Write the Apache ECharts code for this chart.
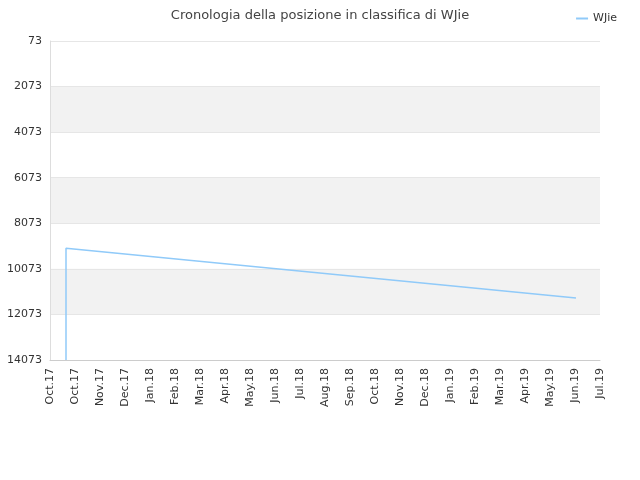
<!DOCTYPE html>
<html>
<head>
<meta charset="utf-8">
<script src="https://cdn.jsdelivr.net/npm/echarts@6/dist/echarts.min.js"></script>
</head>
<body style="margin:0">
<div id="main" style="width:640px;height:480px"></div>
<script>
var monthLabels = ['Oct.17','Oct.17','Nov.17','Dec.17','Jan.18','Feb.18','Mar.18','Apr.18','May.18','Jun.18','Jul.18','Aug.18','Sep.18','Oct.18','Nov.18','Dec.18','Jan.19','Feb.19','Mar.19','Apr.19','May.19','Jun.19','Jul.19'];
// x = position in label slots, y = rank
var rankPoints = [[0.64, 14073], [0.64, 9170], [21.04, 11350]];

var myChart = echarts.init(document.getElementById('main'));
var option = {
    title: {
        text: 'Cronologia della posizione in classifica di WJie',
        left: 'center', top: 4,
        textStyle: {fontSize: 13, fontWeight: 'normal', color: '#444', fontFamily: 'DejaVu Sans'}
    },
    legend: {
        right: 18, top: 8, itemWidth: 12, itemHeight: 2,
        textStyle: {fontSize: 11, color: '#333', fontFamily: 'DejaVu Sans'},
        data: [{name: 'WJie', icon: 'rect'}]
    },
    grid: {left: 50, right: 40, top: 41, bottom: 120},
    xAxis: {
        type: 'value', min: 0, max: monthLabels.length - 1, interval: 1,
        axisLine: {lineStyle: {color: '#ccc'}},
        axisTick: {show: false},
        splitLine: {show: false},
        axisLabel: {
            rotate: 90, color: '#333', fontSize: 11, fontFamily: 'DejaVu Sans',
            formatter: function (v) { return monthLabels[v] || ''; }
        }
    },
    yAxis: {
        type: 'value', inverse: true, min: 73, max: 14073, interval: 2000,
        axisLine: {show: true, lineStyle: {color: '#ddd'}},
        axisTick: {show: false},
        axisLabel: {color: '#333', fontSize: 11, fontFamily: 'DejaVu Sans',
            formatter: function (v) { return String(v); }},
        splitLine: {lineStyle: {color: '#e6e6e6'}},
        splitArea: {show: true, areaStyle: {color: ['#ffffff', '#f2f2f2']}}
    },
    series: [{
        name: 'WJie', type: 'line', data: rankPoints,
        showSymbol: false, color: '#90caf9',
        lineStyle: {width: 1.5, color: '#90caf9'}
    }]
};
myChart.setOption(option);
</script>
</body>
</html>
